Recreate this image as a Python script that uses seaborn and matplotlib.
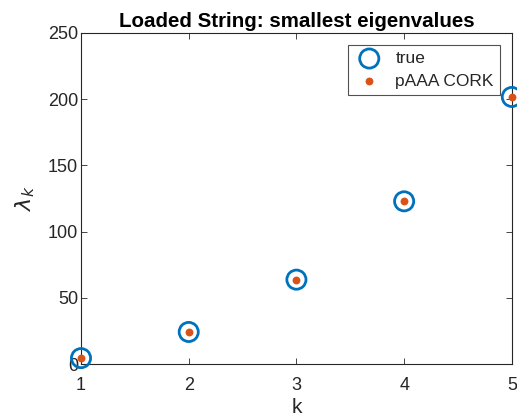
import matplotlib
matplotlib.use("Agg")
import matplotlib.pyplot as plt
import seaborn as sns
import pandas as pd

# Smallest eigenvalues of the loaded string problem
k = [1, 2, 3, 4, 5]
lam_true = [4.4822, 24.2236, 63.7238, 122.8672, 201.6634]
lam_cork = [4.4822, 24.2236, 63.7238, 122.8672, 201.6634]

sns.set_theme(style="white")
plt.rcParams["font.family"] = ["Liberation Sans", "DejaVu Sans"]
plt.rcParams["mathtext.fontset"] = "dejavusans"

df = pd.DataFrame({"k": k, "true": lam_true, "cork": lam_cork})

fig = plt.figure(figsize=(5.17, 4.17), dpi=100)
ax = fig.add_axes([0.1567, 0.127, 0.8333, 0.794])

blue = "#0072BD"
orange = "#D95319"

sns.scatterplot(data=df, x="k", y="true", ax=ax, s=190, marker="o",
                facecolors="none", edgecolor=blue, linewidth=2.0,
                label="true", clip_on=False, zorder=3)
sns.scatterplot(data=df, x="k", y="cork", ax=ax, s=32, marker="o",
                color=orange, edgecolor=orange, linewidth=0,
                label="pAAA CORK", clip_on=False, zorder=4)

ax.set_xlim(1, 5)
ax.set_ylim(0, 250)
ax.set_xticks(k)
ax.set_yticks([0, 50, 100, 150, 200, 250])

for sp in ax.spines.values():
    sp.set_color("#262626")
    sp.set_linewidth(0.8)
ax.tick_params(direction="in", length=4.5, width=0.6, colors="#262626",
               labelsize=13, top=True, right=True, bottom=True, left=True,
               labelcolor="#262626")
ax.tick_params(axis="x", pad=9)
ax.tick_params(axis="y", pad=2)

ax.set_xlabel("k", fontsize=15, color="#262626", labelpad=3)
ax.set_ylabel(r"$\lambda_k$", fontsize=16, color="#262626", labelpad=8)
ax.set_title("Loaded String: smallest eigenvalues", fontsize=14.8,
             fontweight="bold", color="black", pad=4)

leg = ax.legend(loc="upper right", bbox_to_anchor=(0.972, 0.964),
                fontsize=12.5, frameon=True, fancybox=False,
                handletextpad=0.6, borderpad=0.35, labelspacing=0.45,
                handlelength=1.8, borderaxespad=0)
leg.get_frame().set_edgecolor("#262626")
leg.get_frame().set_linewidth(0.8)
for t in leg.get_texts():
    t.set_color("#262626")

fig.savefig("out.png", dpi=100)
